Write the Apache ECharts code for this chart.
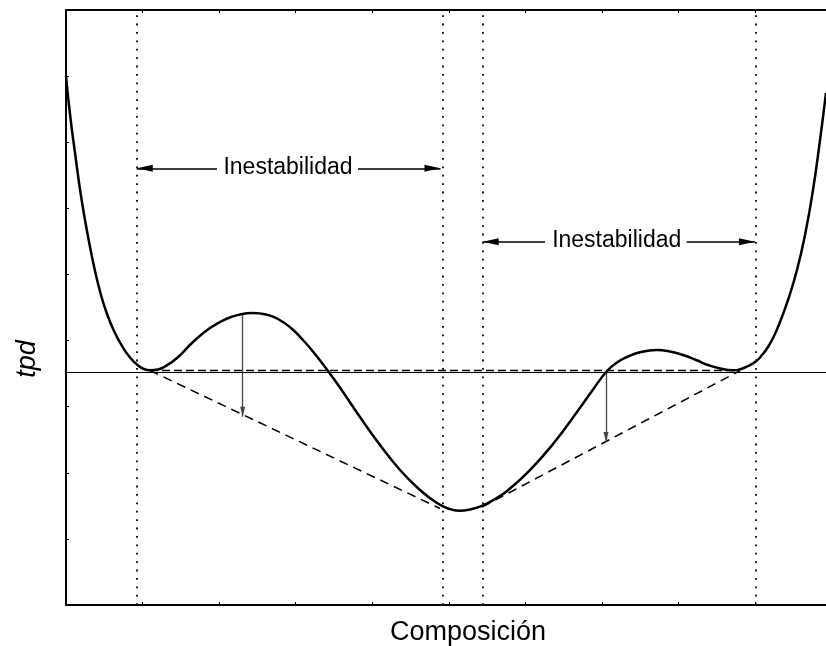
<!DOCTYPE html>
<html><head><meta charset="utf-8">
<script src="https://cdn.jsdelivr.net/npm/echarts@6/dist/echarts.min.js"></script>
<style>html,body{margin:0;padding:0;background:#fff}#c{width:826px;height:646px}</style>
</head><body><div id="c"></div>
<script>
// ---- data (axis units) ----
const curveX = [0, 0.052, 0.118, 0.196, 0.287, 0.379, 0.457, 0.536, 0.627, 0.732, 0.836, 0.941, 1.019, 1.097, 1.202, 1.293, 1.450, 1.659, 1.881, 2.090, 2.273, 2.443, 2.613, 2.769, 2.939, 3.096, 3.252, 3.423, 3.592, 3.840, 4.102, 4.363, 4.624, 4.846, 4.990, 5.134, 5.278, 5.434, 5.604, 5.761, 6.061, 6.362, 6.675, 6.871, 7.067, 7.198, 7.328, 7.511, 7.720, 7.890, 8.060, 8.230, 8.387, 8.544, 8.713, 8.818, 8.909, 9.010, 9.092, 9.170, 9.249, 9.327, 9.432, 9.549, 9.654, 9.758, 9.850, 9.928];
const curveY = [8.002, 7.427, 6.837, 6.187, 5.577, 5.052, 4.689, 4.402, 4.145, 3.918, 3.744, 3.623, 3.570, 3.550, 3.562, 3.607, 3.736, 3.978, 4.190, 4.326, 4.394, 4.417, 4.394, 4.326, 4.190, 4.008, 3.797, 3.540, 3.267, 2.844, 2.420, 2.042, 1.740, 1.543, 1.460, 1.426, 1.445, 1.498, 1.603, 1.724, 2.042, 2.435, 2.919, 3.237, 3.540, 3.668, 3.751, 3.827, 3.857, 3.834, 3.781, 3.706, 3.630, 3.577, 3.550, 3.570, 3.615, 3.683, 3.781, 3.903, 4.069, 4.281, 4.614, 5.067, 5.597, 6.277, 7.034, 7.745];
const zeroLevel = 3.524;
const commonTangentX = [1.097, 8.805];
const commonTangentY = [3.547, 3.547];
const tangentLeftX = [1.097, 4.886];
const tangentLeftY = [3.547, 1.460];
const tangentRightX = [5.434, 8.805];
const tangentRightY = [1.482, 3.544];
const boundaryX = [0.924, 4.921, 5.438, 9.010];
const dropX = [2.308, 7.054];
const dropFromY = [4.387, 3.54];
const dropToY = [2.848, 2.466];
const annotLabels = ['Inestabilidad', 'Inestabilidad'];
const annotY = [6.606, 5.495];
const annotCenterX = [2.90, 7.194];
const annotFromX = [[1.973, 3.814], [6.257, 8.108]];
const annotToX = [[0.924, 4.892], [5.443, 9.0]];
const xAxisName = 'Composición';
const yAxisName = 'tpd';

const FONT = 'Liberation Sans, Arial, sans-serif';
const pairs = (xs, ys) => xs.map((x, i) => [x, ys[i]]);

const axisBase = {
  type: 'value', min: 0, interval: 1,
  axisLine: { show: true, onZero: false, lineStyle: { color: '#000', width: 2 } },
  axisTick: { show: true, inside: true, length: 3, lineStyle: { color: '#000', width: 1 } },
  axisLabel: { show: false },
  splitLine: { show: false }
};

const arrowHead = (size) => ({ symbol: 'triangle', symbolSize: size, symbolOffset: [0, '50%'] });

const annotLines = [];
annotY.forEach((y, i) => {
  for (let k = 0; k < 2; k++) {
    annotLines.push([
      { coord: [annotFromX[i][k], y], symbol: 'none' },
      Object.assign({ coord: [annotToX[i][k], y] }, arrowHead([7, 16]))
    ]);
  }
});
const dropLines = dropX.map((x, i) => [
  { coord: [x, dropFromY[i]], symbol: 'none' },
  Object.assign({ coord: [x, dropToY[i]] }, arrowHead([5, 10]))
]);

const chart = echarts.init(document.getElementById('c'), null, { renderer: 'canvas' });
chart.setOption({
  animation: false,
  backgroundColor: '#fff',
  textStyle: { fontFamily: FONT },
  grid: { left: 66, right: 0, top: 10, bottom: 41, containLabel: false, outerBoundsMode: 'none' },
  xAxis: [
    Object.assign({}, axisBase, { max: 9.928, position: 'bottom',
      name: xAxisName, nameLocation: 'middle', nameGap: 14,
      nameTextStyle: { fontSize: 27, color: '#000', fontFamily: FONT, padding: [0, 0, 0, 44] } }),
    Object.assign({}, axisBase, { max: 9.928, position: 'top' })
  ],
  yAxis: [
    Object.assign({}, axisBase, { max: 9, position: 'left',
      name: yAxisName, nameLocation: 'middle', nameGap: 25, nameRotate: 90,
      nameTextStyle: { fontSize: 27, fontStyle: 'italic', color: '#000', fontFamily: FONT, padding: [0, 103, 0, 0] } })
  ],
  series: [
    {
      type: 'line', data: pairs(curveX, curveY), smooth: 0.5, showSymbol: false, silent: true,
      lineStyle: { color: '#000', width: 2.5 }, z: 5,
      markLine: {
        silent: true, animation: false, symbol: 'none', label: { show: false },
        lineStyle: { color: '#000', width: 1, type: 'solid' },
        emphasis: { disabled: true },
        data: [{ yAxis: zeroLevel }]
      }
    },
    {
      type: 'line', data: pairs(commonTangentX, commonTangentY), showSymbol: false, silent: true,
      lineStyle: { color: '#000', width: 1.5, type: [8, 4] }, z: 3,
      markLine: {
        silent: true, animation: false, symbol: 'none', label: { show: false },
        lineStyle: { color: '#000', width: 1.8, type: [1.8, 6.6] },
        emphasis: { disabled: true },
        data: boundaryX.map(x => ({ xAxis: x }))
      }
    },
    {
      type: 'line', data: pairs(tangentLeftX, tangentLeftY), showSymbol: false, silent: true,
      lineStyle: { color: '#000', width: 1.5, type: [9, 6] }, z: 3,
      markLine: {
        silent: true, animation: false, label: { show: false },
        lineStyle: { color: '#000', width: 1.5, type: 'solid' },
        emphasis: { disabled: true },
        data: annotLines
      }
    },
    {
      type: 'line', data: pairs(tangentRightX, tangentRightY), showSymbol: false, silent: true,
      lineStyle: { color: '#000', width: 1.5, type: [9, 6] }, z: 3,
      markLine: {
        silent: true, animation: false, label: { show: false },
        lineStyle: { color: '#444', width: 1.3, type: 'solid' },
        itemStyle: { color: '#333' },
        emphasis: { disabled: true },
        data: dropLines
      }
    },
    {
      type: 'scatter', symbol: 'circle', symbolSize: 0, silent: true,
      itemStyle: { color: '#000', opacity: 1 },
      data: annotCenterX.map((x, i) => ({ value: [x, annotY[i] + 0.015], name: annotLabels[i] })),
      label: { show: true, position: 'inside', formatter: p => p.name, color: '#000', opacity: 1, textBorderWidth: 0, fontSize: 23, fontFamily: FONT },
      z: 10
    }
  ]
});
</script></body></html>
